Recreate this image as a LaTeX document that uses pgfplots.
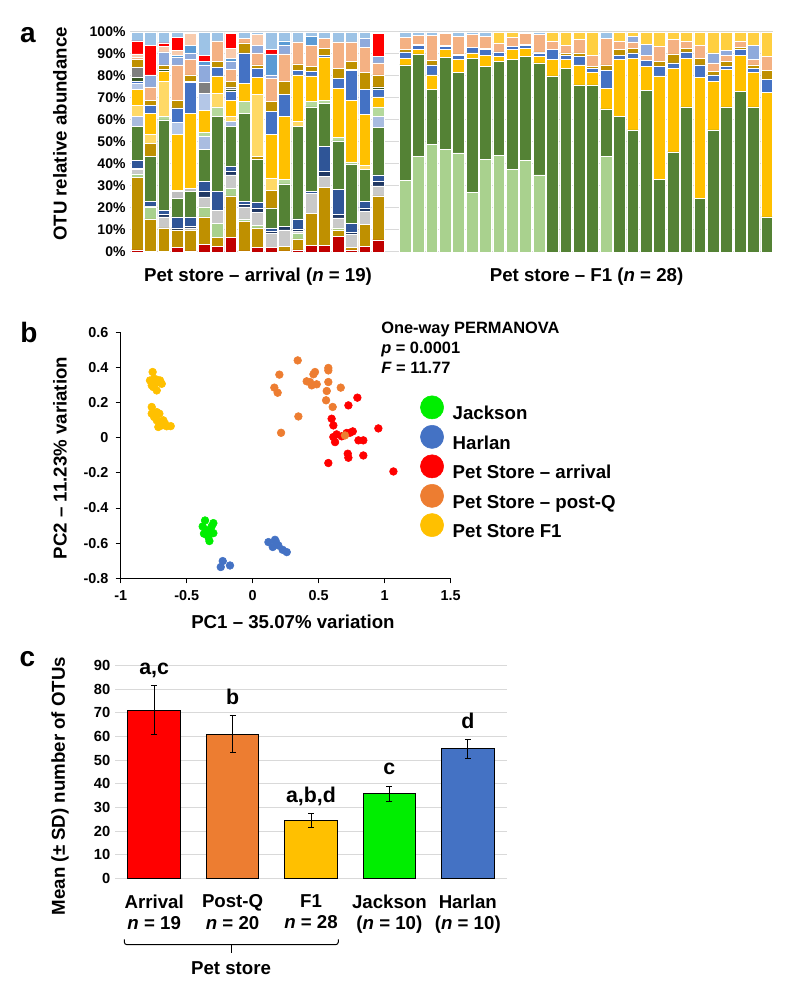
\documentclass[border=0pt]{standalone}
\usepackage{pgfplots}
\pgfplotsset{compat=1.18}
\usepackage{pgfplotstable}
\usepackage{fontspec}
\setmainfont{Liberation Sans}

\definecolor{gridgray}{HTML}{D9D9D9}
% OTU colours, stack order bottom to top
\definecolor{odr}{HTML}{C00000}
\definecolor{ool}{HTML}{BF9000}
\definecolor{olg}{HTML}{A9D18E}
\definecolor{ogy}{HTML}{C9C9C9}
\definecolor{onv}{HTML}{203864}
\definecolor{odb}{HTML}{2F5597}
\definecolor{ogr}{HTML}{548235}
\definecolor{oga}{HTML}{BF9000}
\definecolor{ogb}{HTML}{BFBFBF}
\definecolor{olbz}{HTML}{A9BCE0}
\definecolor{olgt}{HTML}{B5D99C}
\definecolor{oly}{HTML}{FFD966}
\definecolor{oye}{HTML}{FFC000}
\definecolor{olb}{HTML}{B4C7E7}
\definecolor{obl}{HTML}{4472C4}
\definecolor{odg}{HTML}{385723}
\definecolor{ody}{HTML}{7F7F7F}
\definecolor{ogo}{HTML}{BF9000}
\definecolor{ope}{HTML}{F4B183}
\definecolor{opr}{HTML}{8FAADC}
\definecolor{osk}{HTML}{5B9BD5}
\definecolor{opet}{HTML}{F8CBAD}
\definecolor{ord}{HTML}{FF0000}
\definecolor{oty}{HTML}{FFCF40}
\definecolor{otb}{HTML}{9DC3E6}
% group colours
\definecolor{carr}{HTML}{FF0000}
\definecolor{cpost}{HTML}{ED7D31}
\definecolor{cf1}{HTML}{FFC000}
\definecolor{cjack}{HTML}{00EE00}
\definecolor{charl}{HTML}{4472C4}

% pet store arrival, % per OTU group
\pgfplotstableread{
x dr ol lg gy nv db gr ga gb lbz lgt ly ye lb bl dg dy go pe pr sk pet rd tb
0 1 33 1.5 2 .5 3.5 15.5 0 0 4.5 0 5 7.5 2.5 1 2 4.5 3.5 1 0 0 1.5 6 4
1 .3 14.7 5.5 0 .5 2 20.5 6 0 0 0 4 9.5 0 3.5 0 0 2.5 6 5.5 0 0 13.5 6
2 .3 10.7 0 5 1 2 41 0 0 0 1.5 16 4.5 0 0 1 0 2 0 6 0 2.5 1.5 5
3 2 8 0 0 1 5 8.5 0 3 0 0 .5 25.5 5.5 6.5 0 0 3.5 16 3.5 1 2 6 2.5
4 .5 9.5 0 1 .5 4.5 11.5 0 1.5 0 0 0 34 0 14 .5 0 3 7 3 3.5 5.5 0 .5
5 3.5 12.5 4.5 4.5 2.5 4.5 14.5 0 0 6 2 0 10 7.5 0 0 5 0 0 8 1.5 0 3 10.5
6 2.5 4 6.5 6 0 8.5 34 0 0 0 4.5 6 8 0 4 0 0 2.5 9.5 0 0 0 0 4
7 6.5 19 3.5 6 1.5 2.5 18 0 0 2.5 0 2 7.5 0 4 1 1 2.5 5.5 3.5 1.5 4.5 7 .5
8 .5 13.5 1 5.5 1 1.5 40 0 0 0 5.5 0 8 0 14 0 0 4.5 2 0 0 0 0 3
9 2 9 1 6 2 2.5 19.5 1.5 0 0 0 28 8 0 4 0 0 1.5 5.5 3.5 0 5 0 1
10 2 0 0 6.5 1 1.5 9 8 0 0 0 5.5 20 0 10.5 0 0 4.5 10.5 1.5 9.5 0 2 8
11 .5 2 0 7.5 1.5 0 19.5 0 0 0 2 0 28.5 0 10 0 0 6 12.5 4 2 0 0 4
12 1 5 2.5 1 1 4.5 42 0 0 0 0 2.5 21 0 2 0 0 3 10 0 0 0 0 4.5
13 3 14.5 0 9 0 1 38.5 0 0 0 2.5 0 11.5 0 2 0 0 2.5 9.5 0 4 0 0 2
14 3 26.5 0 5 2 11.5 19.5 0 0 0 1.5 0 19.5 0 1 0 0 3 4.5 0 0 0 0 3
15 7 3 1 4.5 1.5 11.5 22 0 0 0 1.5 0 22.5 0 4.5 0 0 4.5 12 0 0 0 0 4.5
16 1 1 0 6 1 4 27 0 0 0 1 0 28 0 13.5 .5 0 3.5 9 0 0 0 0 4.5
17 2.5 10 0 6 1.5 3 14.5 0 0 0 0 2 23 0 11.5 0 0 7.5 11.5 4 0 0 0 3
18 5.5 20 0 4.5 2 3 21.5 0 0 5 4.5 0 4.5 0 3.5 1 0 5.5 5.5 3 0 0 10.5 .5
}\arrival

% pet store F1
\pgfplotstableread{
x lg gr ye bl go pe pr ty tb
20 32.5 52.5 3 3 1 5.5 0 0 2.5
21 43.5 46.5 2 2 .5 4 0 0 1.5
22 49 25 6.5 4.5 2 11.5 0 0 1.5
23 46.5 42 3.5 1.5 .5 5.5 0 0 .5
24 45 36.5 6 2 .5 8 0 0 2
25 27 61 2.5 2.5 0 6 0 0 1
26 42 42.5 5 2.5 .5 5.5 0 0 2
27 44 42.5 2.5 2 0 4 0 5 0
28 37.5 50 4.5 1.5 0 4 0 2.5 0
29 41.5 47.5 3.5 1.5 .5 5 0 0 .5
30 35 51 3 1.5 .5 8 0 0 1
31 0 80 7.5 4.5 0 4 0 4 0
32 0 83.5 4 2 1 3.5 0 6 0
33 0 76 9 4 1.5 6 0 3.5 0
34 0 76 5.5 2 1 5 0 10.5 0
35 43.5 21.5 9.5 8 2.5 12 0 0 3
36 0 61.5 26 2 2.5 4 0 4 0
37 0 55.5 32.5 2.5 2 3 2.5 2 0
38 0 73.5 11 2.5 0 2.5 5 5.5 0
39 0 33 47 4.5 2 7 0 6.5 0
40 0 45.5 38 2.5 4 6.5 0 3.5 0
41 0 66 22 3 1.5 3.5 0 4 0
42 0 24.5 55 5.5 3 6 0 6 0
43 0 55.5 22 3 1.5 4 4.5 9.5 0
44 0 66 17 1.5 2 3 2 8.5 0
45 0 73 16.5 2.5 1 3 0 4 0
46 0 66 15.5 2 1.5 2.5 6.5 6 0
47 0 16 56.5 6 4 6.5 0 11 0
}\fone

\pgfplotsset{
  abar/.style={
    scale only axis, ybar stacked, bar width=8.8pt,
    height=165pt, ymin=0, ymax=100,
    axis line style={draw=none}, major tick length=0pt,
    ymajorgrids, grid style={line width=0.75pt, gridgray},
    xtick=\empty, ytick={0,10,...,100},
    every axis plot/.append style={draw=white, line width=0.3pt},
    table/x=x,
    xlabel style={font=\fontsize{14}{14}\selectfont\bfseries, anchor=center},
  },
  cbar/.style={ybar, bar width=39.5pt, bar shift=0pt, draw=black, line width=0.75pt,
    error bars/y dir=both, error bars/y explicit,
    error bars/error bar style={black, line width=0.75pt},
    error bars/error mark options={rotate=90, mark size=2.2pt, black, line width=0.75pt}},
}

\begin{document}
\begin{tikzpicture}[x=0.75pt,y=0.75pt]
\useasboundingbox (0,0) rectangle (785,991);

% ---- a: arrival
\begin{axis}[abar, at={(97.65pt,554.25pt)}, anchor=south west,
  width=201pt, xmin=-0.5, xmax=19.5,
  yticklabels={0\%,10\%,20\%,30\%,40\%,50\%,60\%,70\%,80\%,90\%,100\%},
  yticklabel style={font=\fontsize{10.5}{11}\selectfont\bfseries},
  ylabel={OTU relative abundance},
  ylabel style={at={(axis description cs:-0.262,0.536)}, anchor=center,
    font=\fontsize{14}{14}\selectfont\bfseries},
  xlabel={Pet store – arrival (\textit{n} = 19)},
  xlabel style={at={(axis description cs:0.477,-0.114)}},
]
\addplot[fill=odr] table[y=dr]{\arrival};
\addplot[fill=ool] table[y=ol]{\arrival};
\addplot[fill=olg] table[y=lg]{\arrival};
\addplot[fill=ogy] table[y=gy]{\arrival};
\addplot[fill=onv] table[y=nv]{\arrival};
\addplot[fill=odb] table[y=db]{\arrival};
\addplot[fill=ogr] table[y=gr]{\arrival};
\addplot[fill=oga] table[y=ga]{\arrival};
\addplot[fill=ogb] table[y=gb]{\arrival};
\addplot[fill=olbz] table[y=lbz]{\arrival};
\addplot[fill=olgt] table[y=lgt]{\arrival};
\addplot[fill=oly] table[y=ly]{\arrival};
\addplot[fill=oye] table[y=ye]{\arrival};
\addplot[fill=olb] table[y=lb]{\arrival};
\addplot[fill=obl] table[y=bl]{\arrival};
\addplot[fill=odg] table[y=dg]{\arrival};
\addplot[fill=ody] table[y=dy]{\arrival};
\addplot[fill=ogo] table[y=go]{\arrival};
\addplot[fill=ope] table[y=pe]{\arrival};
\addplot[fill=opr] table[y=pr]{\arrival};
\addplot[fill=osk] table[y=sk]{\arrival};
\addplot[fill=opet] table[y=pet]{\arrival};
\addplot[fill=ord] table[y=rd]{\arrival};
\addplot[fill=otb] table[y=tb]{\arrival};
\end{axis}

% ---- a: F1
\begin{axis}[abar, at={(298.65pt,554.25pt)}, anchor=south west,
  width=281.4pt, xmin=19.5, xmax=47.5, yticklabels={},
  xlabel={Pet store – F1 (\textit{n} = 28)},
  xlabel style={at={(axis description cs:0.502,-0.114)}},
]
\addplot[fill=olg] table[y=lg]{\fone};
\addplot[fill=ogr] table[y=gr]{\fone};
\addplot[fill=oye] table[y=ye]{\fone};
\addplot[fill=obl] table[y=bl]{\fone};
\addplot[fill=ogo] table[y=go]{\fone};
\addplot[fill=ope] table[y=pe]{\fone};
\addplot[fill=opr] table[y=pr]{\fone};
\addplot[fill=oty] table[y=ty]{\fone};
\addplot[fill=otb] table[y=tb]{\fone};
\end{axis}

% ---- b: PCoA
\begin{axis}[at={(90.525pt,309.525pt)}, anchor=south west, scale only axis,
  width=247.5pt, height=184.5pt,
  xmin=-1, xmax=1.5, ymin=-0.8, ymax=0.6,
  axis x line=bottom, axis y line=left,
  axis line style={-, line width=0.6pt},
  tick align=outside, major tick length=3.75pt,
  tick style={black, line width=0.6pt},
  xtick={-1,-0.5,0,0.5,1,1.5}, xticklabels={-1,-0.5,0,0.5,1,1.5},
  ytick={-0.8,-0.6,-0.4,-0.2,0,0.2,0.4,0.6},
  yticklabels={-0.8,-0.6,-0.4,-0.2,0,0.2,0.4,0.6},
  ticklabel style={font=\fontsize{10.8}{11}\selectfont\bfseries},
  yticklabel style={xshift=-2pt}, xticklabel style={yshift=-2pt},
  xlabel={PC1 – 35.07\% variation}, ylabel={PC2 – 11.23\% variation},
  xlabel style={at={(axis description cs:0.522,-0.178)}, anchor=center,
    font=\fontsize{14}{14}\selectfont\bfseries},
  ylabel style={at={(axis description cs:-0.184,0.489)}, anchor=center,
    font=\fontsize{14}{14}\selectfont\bfseries},
  legend style={draw=none, fill=none, at={(axis description cs:0.9075,0.743)},
    anchor=north west, font=\fontsize{14}{14}\selectfont\bfseries,
    row sep=1.6pt, column sep=5.8pt, inner sep=0pt, nodes={inner sep=1pt}},
  legend cell align=left,
  legend image code/.code={\draw[#1, mark size=8.7pt] plot coordinates {(8.7pt,5pt)};},
]
\addplot[only marks, mark=*, mark size=2.9pt, color=cjack] coordinates {
(-0.361,-0.471) (-0.379,-0.505) (-0.298,-0.486) (-0.336,-0.527) (-0.298,-0.543)
(-0.336,-0.565) (-0.328,-0.588) (-0.354,-0.527) (-0.311,-0.505) (-0.369,-0.546)};
\addlegendentry{Jackson}
\addplot[only marks, mark=*, mark size=2.9pt, color=charl] coordinates {
(0.119,-0.594) (0.169,-0.581) (0.152,-0.622) (0.194,-0.613) (0.227,-0.638)
(0.258,-0.651) (-0.242,-0.736) (-0.227,-0.702) (-0.172,-0.727) (0.177,-0.594)};
\addlegendentry{Harlan}
\addplot[only marks, mark=*, mark size=2.9pt, color=carr] coordinates {
(0.793,0.228) (0.725,0.184) (0.598,0.108) (0.611,0.070) (0.636,0.019)
(0.624,-0.025) (0.611,0.004) (0.737,0.028) (0.758,0.036) (0.801,-0.015)
(0.838,-0.015) (0.720,-0.091) (0.725,-0.114) (0.838,-0.101) (0.573,-0.144)
(0.952,0.053) (1.066,-0.192) (0.674,0.008) (0.712,0.027)};
\addlegendentry{Pet Store – arrival}
\addplot[only marks, mark=*, mark size=2.9pt, color=cpost] coordinates {
(0.341,0.440) (0.202,0.359) (0.164,0.285) (0.189,0.256) (0.346,0.121)
(0.215,0.028) (0.409,0.321) (0.472,0.374) (0.460,0.361) (0.447,0.298)
(0.485,0.304) (0.573,0.397) (0.573,0.383) (0.573,0.317) (0.561,0.266)
(0.556,0.213) (0.606,0.175) (0.667,0.285) (0.699,0.013) (0.434,0.317)};
\addlegendentry{Pet Store – post-Q}
\addplot[only marks, mark=*, mark size=2.9pt, color=cf1] coordinates {
(-0.758,0.374) (-0.747,0.336) (-0.778,0.326) (-0.727,0.330) (-0.702,0.326)
(-0.689,0.307) (-0.727,0.269) (-0.753,0.288) (-0.765,0.298) (-0.740,0.307)
(-0.715,0.317) (-0.765,0.175) (-0.727,0.146) (-0.707,0.137) (-0.747,0.118)
(-0.727,0.099) (-0.702,0.089) (-0.677,0.099) (-0.689,0.070) (-0.715,0.061)
(-0.652,0.065) (-0.621,0.066) (-0.664,0.080) (-0.732,0.127) (-0.765,0.137)};
\addlegendentry{Pet Store F1}
\end{axis}
\node[anchor=north west, align=left, inner sep=0pt,
  font=\fontsize{12.3}{15}\selectfont\bfseries] at (381,669)
  {One-way PERMANOVA\\\textit{p} = 0.0001\\\textit{F} = 11.77};

% ---- c: richness
\begin{axis}[at={(86.25pt,84.525pt)}, anchor=south west, scale only axis,
  width=294pt, height=159.5pt, clip=false,
  xmin=-0.5, xmax=4.5, ymin=0, ymax=90,
  axis line style={draw=none}, major tick length=0pt,
  ymajorgrids, grid style={line width=0.75pt, gridgray},
  ytick={0,10,...,90}, xtick={0,1,2,3,4},
  xticklabels={{Arrival\\\textit{n} = 19},{Post-Q\\\textit{n} = 20},{F1\\\textit{n} = 28},
    {Jackson\\(\textit{n} = 10)},{Harlan\\(\textit{n} = 10)}},
  xticklabel style={align=center, font=\fontsize{14}{16}\selectfont\bfseries, yshift=-8.8pt},
  yticklabel style={font=\fontsize{11}{11}\selectfont\bfseries},
  /pgf/number format/assume math mode=true,
  ylabel={Mean (± SD) number of OTUs},
  ylabel style={at={(axis description cs:-0.140,0.434)}, anchor=center,
    font=\fontsize{14}{14}\selectfont\bfseries},
]
\addplot[cbar, fill=carr] coordinates {(0,71.2) +- (0,10.2)};
\addplot[cbar, fill=cpost] coordinates {(1,61) +- (0,7.9)};
\addplot[cbar, fill=cf1] coordinates {(2,24.4) +- (0,2.9)};
\addplot[cbar, fill=cjack] coordinates {(3,35.8) +- (0,3.2)};
\addplot[cbar, fill=charl] coordinates {(4,54.8) +- (0,4)};
\addplot[only marks, mark=none, nodes near coords, point meta=explicit symbolic,
  every node near coord/.append style={anchor=south, inner sep=0pt, text depth=0pt,
    yshift=8.25pt, font=\fontsize{16}{16}\selectfont\bfseries, text=black}]
  coordinates {(0,81.4) [a,c] (1,68.9) [b] (2,27.3) [a,b,d] (3,39) [c] (4,58.8) [d]};
\end{axis}
\draw[line width=0.75pt, rounded corners=2pt] (124.3,51.7) -- (124.3,46.3) -- (338.3,46.3) -- (338.3,51.7);
\draw[line width=0.75pt] (231,46.3) -- (231,37.7);
\node[font=\fontsize{14}{14}\selectfont\bfseries] at (231,23) {Pet store};

% panel letters
\node[font=\fontsize{21}{21}\selectfont\bfseries] at (28,956) {a};
\node[font=\fontsize{21}{21}\selectfont\bfseries] at (29,658) {b};
\node[font=\fontsize{21}{21}\selectfont\bfseries] at (27.5,332) {c};
\end{tikzpicture}
\end{document}
